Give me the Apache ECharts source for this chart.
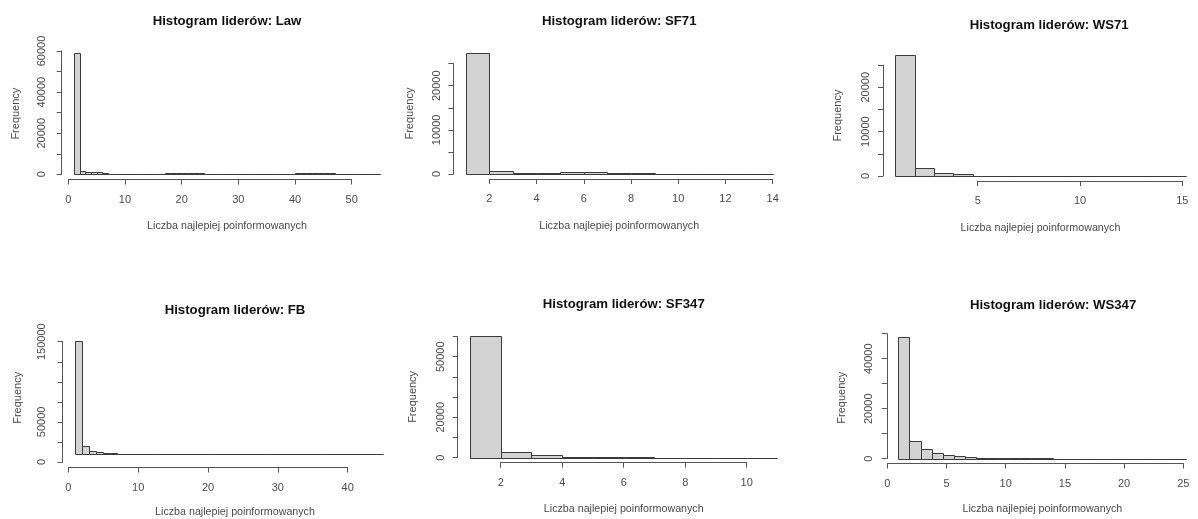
<!DOCTYPE html>
<html><head><meta charset="utf-8">
<script src="https://cdn.jsdelivr.net/npm/echarts@6/dist/echarts.min.js"></script>
<style>html,body{margin:0;padding:0;background:#fff;}#c{width:1198px;height:519px;}</style>
</head><body><div id="c"></div>
<script>
// ---------- DATA ----------
const titles = ['Histogram liderów: Law','Histogram liderów: SF71','Histogram liderów: WS71',
                'Histogram liderów: FB','Histogram liderów: SF347','Histogram liderów: WS347'];
const xName = 'Liczba najlepiej poinformowanych';
const yName = 'Frequency';
const binStart = [1, 1, 1, 1, 1, 1];   // first break of each histogram (bins of width 1)

const countsLaw = [59200,1800,1100,1100,1000,600,350,
  60,60,60,60,60,60,60,60,60,
  480,480,480,480,480,480,480,
  40,40,40,40,40,40,40,40,40,40,40,40,40,40,40,40,
  480,480,480,480,480,480,480,
  60,60,60,60,60,60,
  0,0];
const countsSF71 = [27400,750,320,320,520,520,320,220,80,80,80,0,0];
const countsWS71 = [27300,1900,780,380,100,100,100,100,100,100,100,0,0,0,0];
const countsFB = [151000,10500,5000,3300,2300,1500,900,600,500,400,350,300,
  0,0,0,0,0,0,0,0,0,0,0,0,0,0,0,0,0,0,0,0,0,0,0,0,0,0,0,0,0,0,0,0];
const countsSF347 = [60300,3000,1200,500,350,300,0,0,0,0];
const countsWS347 = [48800,6900,3700,2300,1600,1100,700,300,150,150,150,150,150,150,
  0,0,0,0,0,0,0,0,0,0,0,0];

const xTicksLaw = [0,10,20,30,40,50];
const xTicksSF71 = [2,4,6,8,10,12,14];
const xTicksWS71 = [5,10,15];
const xTicksFB = [0,10,20,30,40];
const xTicksSF347 = [2,4,6,8,10];
const xTicksWS347 = [0,5,10,15,20,25];

const yTicksLaw = [0,10000,20000,30000,40000,50000,60000];
const yTicksSF71 = [0,5000,10000,15000,20000,25000];
const yTicksWS71 = [0,5000,10000,15000,20000,25000];
const yTicksFB = [0,25000,50000,75000,100000,125000,150000];
const yTicksSF347 = [0,10000,20000,30000,40000,50000,60000];
const yTicksWS347 = [0,10000,20000,30000,40000,50000];

const yLabelsLaw = [0,20000,40000,60000];
const yLabelsSF71 = [0,10000,20000];
const yLabelsWS71 = [0,10000,20000];
const yLabelsFB = [0,50000,150000];
const yLabelsSF347 = [0,20000,50000];
const yLabelsWS347 = [0,20000,40000];

const counts = [countsLaw,countsSF71,countsWS71,countsFB,countsSF347,countsWS347];
const xTicks = [xTicksLaw,xTicksSF71,xTicksWS71,xTicksFB,xTicksSF347,xTicksWS347];
const yTicks = [yTicksLaw,yTicksSF71,yTicksWS71,yTicksFB,yTicksSF347,yTicksWS347];
const yLabels = [yLabelsLaw,yLabelsSF71,yLabelsWS71,yLabelsFB,yLabelsSF347,yLabelsWS347];

// ---------- LAYOUT (pixel calibration of each panel) ----------
const layout = [
  {xcal:[0,68.3,50,351.7],  ycal:[0,174.3,60000,51],   left:61.7,  right:392.3,  bottom:179.5, titleY:22.7, xNameC:47,   yNameC:46.5, yLabC:20},
  {xcal:[2,489.3,14,772.7], ycal:[0,174,20000,85.7],   left:453.4, right:785,    bottom:179,   titleY:22.7, xNameC:47.5, yNameC:43.5, yLabC:16.5},
  {xcal:[5,977.7,15,1182.3],ycal:[0,176,20000,87.3],   left:883,   right:1215.3, bottom:181,   titleY:26,   xNameC:48,   yNameC:45.5, yLabC:17.5},
  {xcal:[0,68.3,40,347.7],  ycal:[0,462,150000,341.7], left:62.5,  right:407.5,  bottom:467.5, titleY:311.7,xNameC:53.5, yNameC:45.5, yLabC:21},
  {xcal:[2,500.7,10,746.7], ycal:[0,457.7,20000,417.3],left:457.7, right:789.8,  bottom:462.7, titleY:305,  xNameC:47.3, yNameC:45,   yLabC:16.5},
  {xcal:[0,887.3,25,1183.3],ycal:[0,458.7,40000,358.7],left:886.8, right:1219.3, bottom:463.5, titleY:306,  xNameC:46.5, yNameC:45,   yLabC:18}
];

const FONT = '"Liberation Sans", Arial, Helvetica, sans-serif';
const LINE = '#555';
const TXT = '#4a4a4a';
const FS = 11;

const grids = [], xAxes = [], yAxes = [], series = [], titleArr = [];
const hidden = {axisLine:{show:false}, axisTick:{show:false}, axisLabel:{show:false}, splitLine:{show:false}};

counts.forEach((cs, i) => {
  const L = layout[i];
  const kx = (L.xcal[3]-L.xcal[1])/(L.xcal[2]-L.xcal[0]);
  const px = v => L.xcal[1] + (v-L.xcal[0])*kx;
  const valX = q => L.xcal[0] + (q-L.xcal[1])/kx;
  const ky = (L.ycal[1]-L.ycal[3])/(L.ycal[2]-L.ycal[0]);
  const py = v => L.ycal[1] - (v-L.ycal[0])*ky;
  const valY = q => L.ycal[0] + (L.ycal[1]-q)/ky;
  const maxC = Math.max(...cs);
  const ymax = maxC*1.04;
  const top = py(ymax);

  // plot grid
  const gP = grids.length;
  grids.push({left:L.left, top:top, width:L.right-L.left, height:L.bottom-top});
  xAxes.push(Object.assign({gridIndex:gP, type:'value', min:valX(L.left), max:valX(L.right),
    name:xName, nameLocation:'middle', nameGap:L.xNameC-6,
    nameTextStyle:{fontFamily:FONT, fontSize:10.7, color:TXT}}, hidden));
  yAxes.push(Object.assign({gridIndex:gP, type:'value', min:valY(L.bottom), max:ymax,
    name:yName, nameLocation:'middle', nameGap:L.yNameC-6, nameRotate:90,
    nameTextStyle:{fontFamily:FONT, fontSize:FS, color:TXT}}, hidden));
  const xi = xAxes.length-1, yi = yAxes.length-1;
  series.push({
    type:'custom', xAxisIndex:xi, yAxisIndex:yi, animation:false, silent:true, clip:false,
    data: cs.map((c,j) => [binStart[i]+j, binStart[i]+j+1, c]),
    encode:{x:[0,1], y:2},
    renderItem: (params, api) => {
      const a = api.coord([api.value(0), 0]);
      const b = api.coord([api.value(1), api.value(2)]);
      const x0 = Math.round(a[0])+0.5, x1 = Math.round(b[0])+0.5;
      const y0 = Math.round(a[1])+0.5, y1 = Math.round(b[1])+0.5;
      return {type:'rect', shape:{x:x0, y:y1, width:x1-x0, height:y0-y1},
        style:{fill:'#d3d3d3', stroke:'#3a3a3a', lineWidth:1}};
    }
  });

  // x axis (line spans first..last tick)
  const xt = xTicks[i];
  const gX = grids.length;
  grids.push({left:px(xt[0]), width:px(xt[xt.length-1])-px(xt[0]), top:L.bottom-10, height:10});
  xAxes.push({gridIndex:gX, type:'value', position:'bottom', min:xt[0], max:xt[xt.length-1], interval:xt[1]-xt[0],
    axisLine:{show:true, lineStyle:{color:LINE, width:1}},
    axisTick:{show:true, length:5, lineStyle:{color:LINE}},
    axisLabel:{show:true, margin:14.5, fontFamily:FONT, fontSize:FS, color:TXT, showMinLabel:true, showMaxLabel:true,
      formatter: v => xt.includes(v) ? String(v) : ''},
    splitLine:{show:false}});
  yAxes.push(Object.assign({gridIndex:gX, type:'value', min:0, max:1}, hidden));

  // y axis (line spans 0..last tick)
  const yt = yTicks[i], yl = yLabels[i];
  const gY = grids.length;
  const yTopPx = py(yt[yt.length-1]), y0Px = py(yt[0]);
  grids.push({left:L.left, width:10, top:yTopPx, height:y0Px-yTopPx});
  xAxes.push(Object.assign({gridIndex:gY, type:'value', min:0, max:1}, hidden));
  yAxes.push({gridIndex:gY, type:'value', position:'left', min:yt[0], max:yt[yt.length-1], interval:yt[1]-yt[0],
    axisLine:{show:true, lineStyle:{color:LINE, width:1}},
    axisTick:{show:true, length:5, lineStyle:{color:LINE}},
    axisLabel:{show:true, rotate:90, margin:L.yLabC-5.5, fontFamily:FONT, fontSize:FS, color:TXT,
      showMinLabel:true, showMaxLabel:true, formatter: v => yl.includes(v) ? String(v) : ''},
    splitLine:{show:false}});

  titleArr.push({text:titles[i], left:(L.left+L.right)/2, top:L.titleY-7.5, textAlign:'center', padding:0,
    textStyle:{fontFamily:FONT, fontSize:13.2, fontWeight:'bold', color:'#111'}});
});

const chart = echarts.init(document.getElementById('c'), null, {renderer:'canvas'});
chart.setOption({
  animation:false,
  backgroundColor:'#ffffff',
  title:titleArr,
  grid:grids,
  xAxis:xAxes,
  yAxis:yAxes,
  series:series
});
</script>
</body></html>
